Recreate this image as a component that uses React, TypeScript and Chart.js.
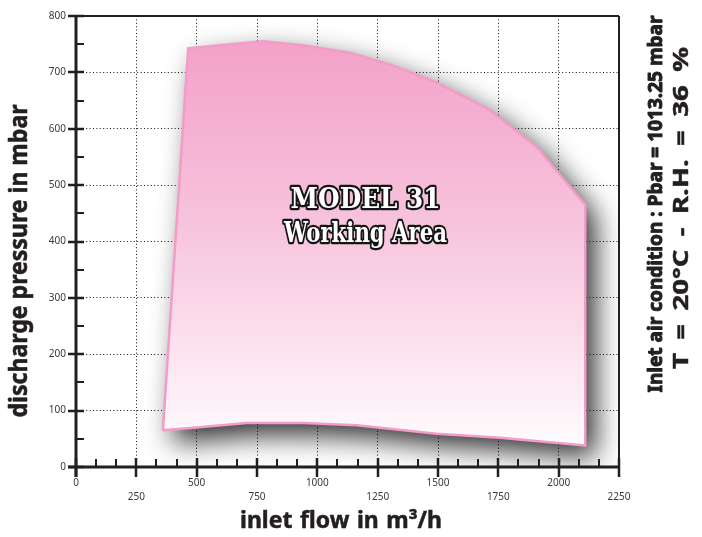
import React, { useEffect, useRef } from 'react';
import { Chart, registerables } from 'chart.js';

Chart.register(...registerables);

// Working area boundary (inlet flow m3/h, discharge pressure mbar)
const upperFlow = [360, 465, 775, 940, 1135, 1315, 1495, 1715, 1910, 2110, 2110];
const upperPressure = [65, 743, 755, 748, 735, 712, 682, 633, 567, 465, 38];
const lowerFlow = [360, 500, 707, 942, 1162, 1494, 1756, 2110];
const lowerPressure = [65, 70, 78, 78, 74, 59, 52, 38];

const xTickValues = [0, 250, 500, 750, 1000, 1250, 1500, 1750, 2000, 2250];
const yTickValues = [0, 100, 200, 300, 400, 500, 600, 700, 800];

const titleText = ['MODEL 31', 'Working Area'];
const yTitle = 'discharge pressure in mbar';
const xTitle = 'inlet flow in m³/h';
const conditionText = ['Inlet air condition : Pbar = 1013.25 mbar', 'T = 20°C - R.H. = 36 %'];

const INK = '#231f20';

function drawFitted(
  ctx: CanvasRenderingContext2D,
  text: string,
  cx: number,
  cy: number,
  font: string,
  targetW: number,
  rot: number,
  color: string,
  baseline: CanvasTextBaseline = 'middle',
  outline?: { color: string; width: number }
) {
  ctx.save();
  ctx.font = font;
  const anyCtx = ctx as any;
  const w = ctx.measureText(text).width;
  let sx = 1;
  if (targetW) {
    const spaces = (text.match(/ /g) || []).length;
    if (w < targetW && spaces > 0 && 'wordSpacing' in anyCtx) {
      anyCtx.wordSpacing = Math.min(5, (targetW - w) / spaces) + 'px';
      const w2 = ctx.measureText(text).width;
      sx = targetW / w2;
    } else {
      sx = targetW / w;
    }
  }
  ctx.translate(cx, cy);
  if (rot) ctx.rotate(rot);
  ctx.scale(sx, 1);
  ctx.textAlign = 'center';
  ctx.textBaseline = baseline;
  if (outline) {
    ctx.lineJoin = 'round';
    ctx.lineWidth = outline.width;
    ctx.strokeStyle = outline.color;
    ctx.strokeText(text, 0, 0);
  }
  ctx.fillStyle = color;
  ctx.fillText(text, 0, 0);
  ctx.restore();
}

const shadowPlugin = {
  id: 'areaShadow',
  beforeDatasetsDraw(chart: any) {
    const up = chart.getDatasetMeta(0).data;
    const lo = chart.getDatasetMeta(1).data;
    if (!up.length || !lo.length) return;
    const ctx: CanvasRenderingContext2D = chart.ctx;
    const a = chart.chartArea;
    ctx.save();
    ctx.beginPath();
    ctx.rect(a.left, a.top, a.right - a.left, a.bottom - a.top);
    ctx.clip();
    ctx.beginPath();
    up.forEach((p: any, i: number) => (i ? ctx.lineTo(p.x, p.y) : ctx.moveTo(p.x, p.y)));
    for (let i = lo.length - 1; i >= 0; i--) ctx.lineTo(lo[i].x, lo[i].y);
    ctx.closePath();
    ctx.shadowColor = 'rgba(0,0,0,0.82)';
    ctx.shadowBlur = 28;
    ctx.shadowOffsetX = 10;
    ctx.shadowOffsetY = 12;
    ctx.fillStyle = '#ffffff';
    ctx.fill();
    ctx.restore();
  },
};

const framePlugin = {
  id: 'frame',
  afterDraw(chart: any) {
    const ctx: CanvasRenderingContext2D = chart.ctx;
    const xs = chart.scales.x;
    const ys = chart.scales.y;
    const { left, right, top, bottom } = chart.chartArea;
    ctx.save();
    ctx.strokeStyle = INK;
    ctx.lineCap = 'butt';
    ctx.lineWidth = 2;
    ctx.beginPath();
    ctx.moveTo(left, top);
    ctx.lineTo(right, top);
    ctx.moveTo(right, top);
    ctx.lineTo(right, bottom);
    ctx.stroke();
    ctx.lineWidth = 2;
    ctx.beginPath();
    for (let v = 0; v <= 2250 + 1; v += 250 / 3) {
      const px = Math.round(xs.getPixelForValue(v));
      ctx.moveTo(px, bottom - 8);
      ctx.lineTo(px, bottom);
    }
    ctx.stroke();
    ctx.lineWidth = 2.5;
    ctx.beginPath();
    xTickValues.forEach((v) => {
      const px = Math.round(xs.getPixelForValue(v));
      ctx.moveTo(px, bottom - 9);
      ctx.lineTo(px, bottom + 10);
    });
    ctx.stroke();
    ctx.lineWidth = 2;
    ctx.beginPath();
    for (let v = 50; v < 800; v += 100) {
      const py = Math.round(ys.getPixelForValue(v));
      ctx.moveTo(left, py);
      ctx.lineTo(left + 8, py);
    }
    ctx.stroke();
    ctx.lineWidth = 2.5;
    ctx.beginPath();
    yTickValues.forEach((v) => {
      const py = Math.round(ys.getPixelForValue(v));
      ctx.moveTo(left - 8, py);
      ctx.lineTo(left + 8, py);
    });
    ctx.stroke();
    ctx.lineWidth = 3;
    ctx.beginPath();
    ctx.moveTo(left, top - 1);
    ctx.lineTo(left, bottom + 10);
    ctx.moveTo(left - 8, bottom);
    ctx.lineTo(right + 1, bottom);
    ctx.stroke();
    ctx.restore();
  },
};

const textPlugin = {
  id: 'texts',
  afterDraw(chart: any) {
    const ctx: CanvasRenderingContext2D = chart.ctx;
    const xs = chart.scales.x;
    const cx = xs.getPixelForValue(1200);
    drawFitted(ctx, titleText[0], cx, 208, 'bold 28px "DejaVu Serif"', 150, 0, '#ffffff', 'alphabetic', { color: '#151515', width: 4.5 });
    drawFitted(ctx, titleText[1], cx, 242, 'bold 28px "DejaVu Serif"', 163, 0, '#ffffff', 'alphabetic', { color: '#151515', width: 4.5 });
    drawFitted(ctx, yTitle, 20, 261, 'bold 25px "Noto Sans"', 313, -Math.PI / 2, INK, 'middle', { color: INK, width: 0.6 });
    drawFitted(ctx, xTitle, 341, 528, 'bold 23px "Noto Sans"', 202, 0, INK, 'alphabetic', { color: INK, width: 0.5 });
    drawFitted(ctx, conditionText[0], 656, 204, 'bold 20px "Noto Sans"', 377, -Math.PI / 2, INK, 'middle', { color: INK, width: 1 });
    drawFitted(ctx, conditionText[1], 682, 208, 'bold 22px "Noto Sans"', 322, -Math.PI / 2, INK, 'middle', { color: INK, width: 0.5 });
  },
};

export default function App() {
  const ref = useRef<HTMLCanvasElement | null>(null);
  useEffect(() => {
    if (!ref.current) return;
    const chart = new Chart(ref.current, {
      type: 'line',
      data: {
        datasets: [
          {
            label: 'upper',
            data: upperFlow.map((x, i) => ({ x, y: upperPressure[i] })),
            borderColor: '#f39cc8',
            borderWidth: 2.5,
            borderJoinStyle: 'round',
            pointRadius: 0,
            tension: 0,
            fill: '+1',
            order: 2,
            backgroundColor: (c: any) => {
              const chart = c.chart;
              const area = chart.chartArea;
              if (!area) return '#f6bcd8';
              const ys = chart.scales.y;
              const g = chart.ctx.createLinearGradient(0, ys.getPixelForValue(755), 0, ys.getPixelForValue(40));
              g.addColorStop(0, '#f3a1c9');
              g.addColorStop(0.45, '#f7c3dc');
              g.addColorStop(1, '#fffbfd');
              return g;
            },
          },
          {
            label: 'lower',
            data: lowerFlow.map((x, i) => ({ x, y: lowerPressure[i] })),
            borderColor: '#f39cc8',
            borderWidth: 2.5,
            borderJoinStyle: 'round',
            pointRadius: 0,
            tension: 0,
            fill: false,
            order: 1,
            backgroundColor: 'transparent',
          },
        ],
      },
      options: {
        animation: false,
        responsive: false,
        devicePixelRatio: 1,
        layout: { padding: { left: 0, top: 13, right: 83, bottom: 0 } },
        plugins: {
          legend: { display: false },
          tooltip: { enabled: false },
        },
        scales: {
          x: {
            type: 'linear',
            min: 0,
            max: 2250,
            afterBuildTicks: (s: any) => {
              s.ticks = xTickValues.map((v) => ({ value: v }));
            },
            afterFit: (s: any) => {
              s.height = 70;
            },
            ticks: {
              autoSkip: false,
              maxRotation: 0,
              padding: 9,
              color: '#3a3a3a',
              font: { family: '"Noto Sans"', size: 10, lineHeight: 1.4 },
              callback: (v: any, i: number) => (i % 2 === 1 ? ['', String(v)] : [String(v)]),
            },
            grid: { color: '#111', lineWidth: 1, drawTicks: false },
            border: { display: false, dash: [1, 2.4] },
          },
          y: {
            type: 'linear',
            min: 0,
            max: 800,
            afterBuildTicks: (s: any) => {
              s.ticks = yTickValues.map((v) => ({ value: v }));
            },
            afterFit: (s: any) => {
              s.width = 76;
            },
            ticks: {
              padding: 10,
              color: '#3a3a3a',
              font: { family: '"Noto Sans"', size: 10 },
              callback: (v: any) => String(v),
            },
            grid: { color: '#111', lineWidth: 1, drawTicks: false },
            border: { display: false, dash: [1, 2.4] },
          },
        },
      },
      plugins: [shadowPlugin, framePlugin, textPlugin],
    } as any);
    return () => chart.destroy();
  }, []);
  return (
    <canvas
      ref={ref}
      width={702}
      height={537}
      style={{ position: 'fixed', left: 0, top: 0, width: 702, height: 537, background: '#fff' }}
    />
  );
}
